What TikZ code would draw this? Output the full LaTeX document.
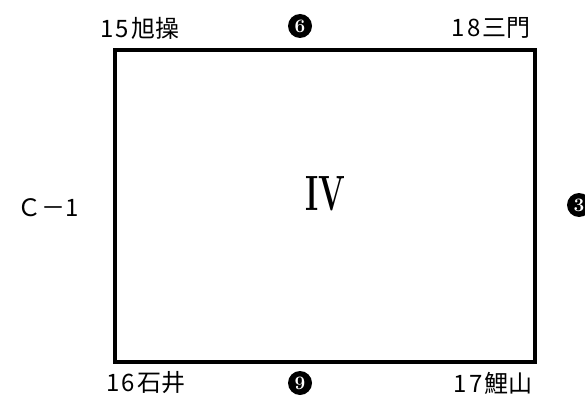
\documentclass[tikz,border=0pt]{standalone}
\usepackage{fontspec}
\newfontfamily\cjk{Noto Sans CJK JP}
\usepackage{tikz}
\usetikzlibrary{positioning}

\begin{document}
\begin{tikzpicture}[x=1pt, y=-1pt,
    block/.style={rectangle, draw=black, line width=4pt, minimum width=420pt, minimum height=312pt, inner sep=0pt},
    site/.style={font=\cjk\fontsize{24}{24}\selectfont, inner sep=0pt},
    badge/.style={circle, fill=black, text=white, minimum size=24pt, inner sep=0pt, font=\bfseries\fontsize{19}{19}\selectfont},
    numeral/.style={inner sep=0pt, font=\bfseries\fontsize{50}{50}\selectfont}
  ]
    \useasboundingbox (0,0) rectangle (585,398);
    \node[block] (zone) at (325,206) {};
    \node[numeral] (roman) at (325,194) {\resizebox{40pt}{34pt}{IV}};
    \foreach \nm/\x/\y/\txt in {
      nw/140/28/1\kern2pt5\kern2pt旭操,
      ne/491/28/1\kern2pt8\kern2pt三門,
      sw/146/383/1\kern2pt6\kern2pt石井,
      se/493/383/1\kern2pt7\kern2pt鯉山,
      west/48/208/Ｃ－1
    } {
      \node[site] (\nm) at (\x,\y) {\txt};
    }
    \foreach \nm/\x/\y/\num in {
      top/300/26/6,
      bottom/300/383/9,
      east/579/205/3
    } {
      \node[badge] (\nm) at (\x,\y) {\num};
    }
  \end{tikzpicture}
\end{document}
